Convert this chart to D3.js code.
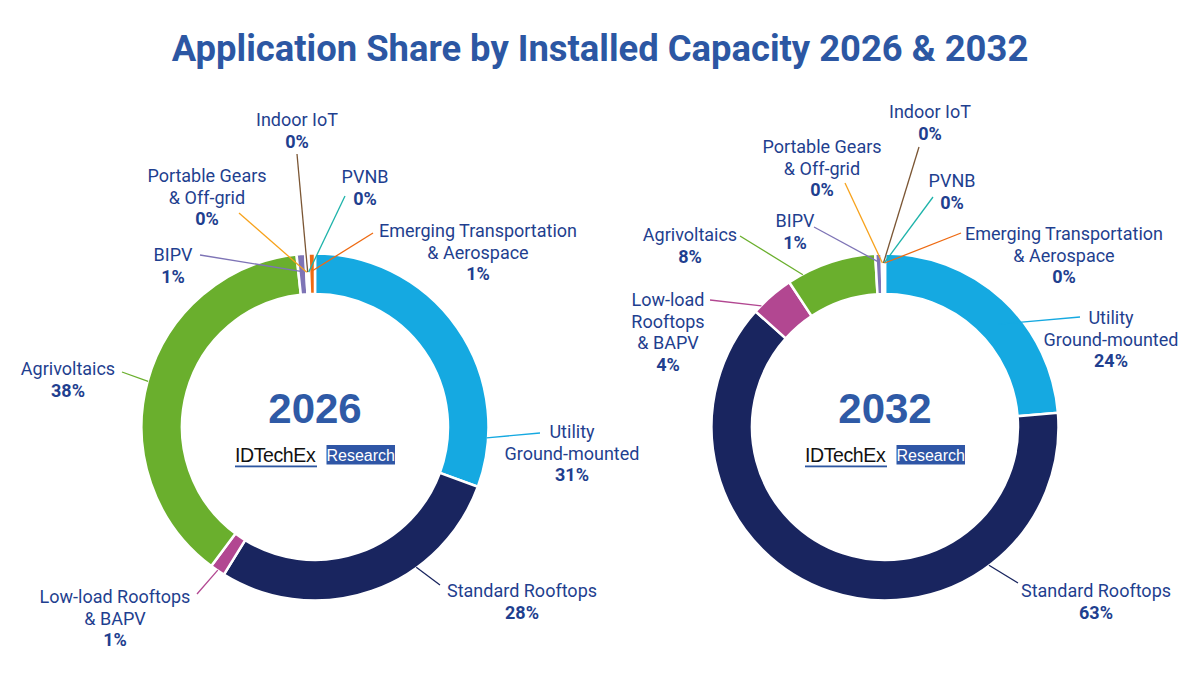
<!DOCTYPE html>
<html>
<head>
<meta charset="utf-8">
<script src="https://cdn.jsdelivr.net/npm/d3@7"></script>
<style>
  body { margin: 0; background: #fff; }
  svg { display: block; font-family: Roboto, "Noto Sans", sans-serif; }
</style>
</head>
<body>
<svg id="chart" width="1200" height="675"></svg>
<script>
const svg = d3.select('#chart');

// Data
const categories = ["Utility Ground-mounted", "Standard Rooftops", "Low-load Rooftops & BAPV",
    "Agrivoltaics", "BIPV", "Portable Gears & Off-grid", "Indoor IoT", "PVNB",
    "Emerging Transportation & Aerospace"];
const colors = ["#15a9e1", "#19255f", "#b24791", "#6aaf2d", "#7e74b6", "#f7a21c", "#7b5634", "#1db3aa", "#ee6a12"];

const share2026 = [30.6, 28.2, 1.4, 38.1, 0.8, 0.1, 0.1, 0.1, 0.6];
const share2032 = [23.7, 62.9, 4.1, 8.4, 0.6, 0.1, 0.1, 0.05, 0.05];

const lines2026 = [["Utility", "Ground-mounted"], ["Standard Rooftops"], ["Low-load Rooftops", "& BAPV"],
    ["Agrivoltaics"], ["BIPV"], ["Portable Gears", "& Off-grid"], ["Indoor IoT"], ["PVNB"],
    ["Emerging Transportation", "& Aerospace"]];
const lines2032 = [["Utility", "Ground-mounted"], ["Standard Rooftops"], ["Low-load", "Rooftops", "& BAPV"],
    ["Agrivoltaics"], ["BIPV"], ["Portable Gears", "& Off-grid"], ["Indoor IoT"], ["PVNB"],
    ["Emerging Transportation", "& Aerospace"]];

// label layout: text anchor (x, first baseline y), leader start (sx, sy),
// leader end at fraction t along the slice, radius r
const layout2026 = [
    {x: 572, y: 438, sx: 540, sy: 433, t: 0.85, r: 172},
    {x: 522, y: 597, sx: 440, sy: 585, t: 0.335, r: 173},
    {x: 115, y: 603, sx: 197, sy: 594, t: 0.5, r: 173},
    {x: 68, y: 375, sx: 122, sy: 372, t: 0.5, r: 173},
    {x: 173, y: 261, sx: 200, sy: 255, t: 0.5, r: 156},
    {x: 207, y: 182, sx: 239, sy: 213, t: 0.5, r: 155},
    {x: 297, y: 126, sx: 297, sy: 154, t: 0.5, r: 155},
    {x: 365, y: 183, sx: 345, sy: 196, t: 0.5, r: 155},
    {x: 478, y: 237, sx: 373, sy: 233, t: 0.5, r: 156}
];
const layout2032 = [
    {x: 1111, y: 324, sx: 1080, sy: 317, t: 0.56, r: 153},
    {x: 1096, y: 597, sx: 1018, sy: 583, t: 0.255, r: 173},
    {x: 668, y: 306, sx: 710, sy: 300, t: 0.18, r: 173},
    {x: 690, y: 241, sx: 740, sy: 236, t: 0.17, r: 173},
    {x: 795, y: 227, sx: 814, sy: 227, t: 0.5, r: 165},
    {x: 822, y: 153, sx: 845, sy: 183, t: 0.5, r: 164},
    {x: 930, y: 118, sx: 919, sy: 147, t: 0.5, r: 164},
    {x: 952, y: 187, sx: 933, sy: 197, t: 0.5, r: 164},
    {x: 1064, y: 240, sx: 961, sy: 233, t: 0.5, r: 164}
];

const outerR = 173.5;
const innerR = 133;
const textColor = "#1f3f8f";
const lineH = 21.5;

svg.append('text')
    .attr('x', 600)
    .attr('y', 61)
    .attr('text-anchor', 'middle')
    .attr('font-size', 36.4)
    .attr('font-weight', 700)
    .attr('fill', '#2c57a3')
    .text("Application Share by Installed Capacity 2026 & 2032");

const pie = d3.pie().sort(null).value(d => d);
const arc = d3.arc().innerRadius(innerR).outerRadius(outerR);

const drawDonut = (cx, cy, year, shares, lines, layout) => {
    const g = svg.append('g')
        .attr('transform', `translate(${cx}, ${cy})`);

    const arcs = pie(shares);

    g.selectAll('path.slice').data(arcs)
        .enter().append('path')
            .attr('class', 'slice')
            .attr('d', arc)
            .attr('fill', (d, i) => colors[i])
            .attr('stroke', '#fff')
            .attr('stroke-width', 2.5)
            .attr('stroke-linejoin', 'miter');

    // leaders
    arcs.forEach((d, i) => {
        const L = layout[i];
        const a = d.startAngle + (d.endAngle - d.startAngle) * L.t;
        const ex = L.r * Math.sin(a);
        const ey = -L.r * Math.cos(a);
        g.append('line')
            .attr('x1', L.sx - cx)
            .attr('y1', L.sy - cy)
            .attr('x2', ex)
            .attr('y2', ey)
            .attr('stroke', colors[i])
            .attr('stroke-width', 1.3);
    });

    // labels
    arcs.forEach((d, i) => {
        const L = layout[i];
        const t = svg.append('text')
            .attr('text-anchor', 'middle')
            .attr('font-size', 18)
            .attr('fill', textColor);
        lines[i].forEach((s, k) => {
            t.append('tspan')
                .attr('x', L.x)
                .attr('y', L.y + k * lineH)
                .text(s);
        });
        t.append('tspan')
            .attr('x', L.x)
            .attr('y', L.y + lines[i].length * lineH)
            .attr('font-weight', 700)
            .text(Math.round(d.data) + "%");
    });

    // center year
    g.append('text')
        .attr('x', 0)
        .attr('y', -4)
        .attr('text-anchor', 'middle')
        .attr('font-family', '"Liberation Sans", Arial, sans-serif')
        .attr('font-weight', 700)
        .attr('font-size', 42)
        .attr('fill', '#2f5aa6')
        .text(year);

    // IDTechEx Research mark
    const logo = g.append('g').attr('transform', 'translate(-80, 18)');
    logo.append('text')
        .attr('x', 0)
        .attr('y', 17)
        .attr('font-family', '"Liberation Sans", Arial, sans-serif')
        .attr('font-size', 19.5)
        .attr('letter-spacing', -0.4)
        .attr('fill', '#111')
        .text("IDTechEx");
    logo.append('rect')
        .attr('x', 0).attr('y', 20.5)
        .attr('width', 82).attr('height', 1.8)
        .attr('fill', '#2d56a0');
    logo.append('rect')
        .attr('x', 91.5).attr('y', 0)
        .attr('width', 68.5).attr('height', 19.5)
        .attr('fill', '#2f56a6');
    logo.append('text')
        .attr('x', 125.7)
        .attr('y', 15.5)
        .attr('text-anchor', 'middle')
        .attr('font-family', '"Liberation Sans", Arial, sans-serif')
        .attr('font-size', 16)
        .attr('fill', '#fff')
        .text("Research");
};

drawDonut(315, 427, "2026", share2026, lines2026, layout2026);
drawDonut(885, 427, "2032", share2032, lines2032, layout2032);
</script>
</body>
</html>
